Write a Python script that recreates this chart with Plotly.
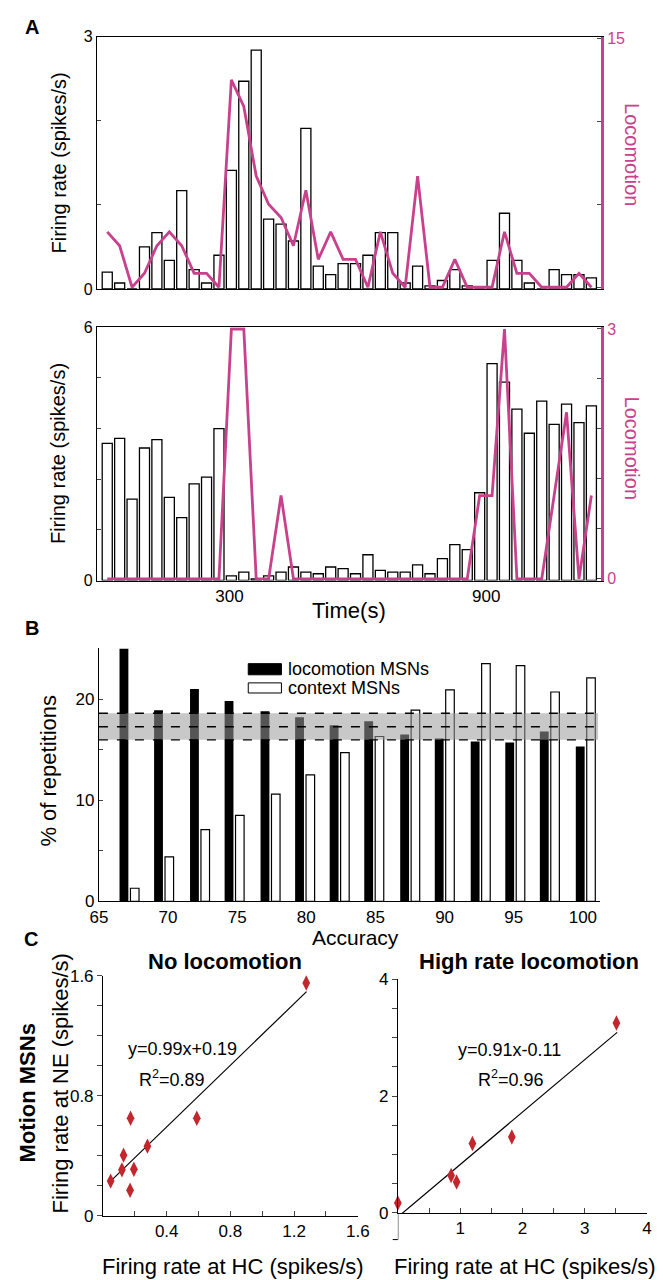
import plotly.graph_objects as go

W, H = 663, 1280
FONT = "Arial, Liberation Sans, sans-serif"
MAGENTA = "#c8418d"
RED = "#c1272d"

# ---- panel A: firing rate per time bin and locomotion, two example neurons
bin_s = 29
time_s = [bin_s * (i + 0.5) for i in range(40)]

rate_top = [0.20, 0.07, 0.0, 0.50, 0.67, 0.34, 1.17, 0.23, 0.07, 0.40,
            1.41, 2.47, 2.84, 0.83, 0.77, 0.57, 1.91, 0.27, 0.17, 0.30,
            0.30, 0.40, 0.67, 0.67, 0.07, 0.27, 0.035, 0.10, 0.23, 0.035,
            0.0, 0.34, 0.90, 0.34, 0.07, 0.0, 0.23, 0.17, 0.17, 0.13]
loco_top = [3.34, 2.5, 0, 0.84, 2.5, 3.34, 2.5, 0.84, 0.84, 0,
            12.5, 10.9, 6.7, 5.0, 4.2, 2.5, 5.85, 1.68, 3.34, 1.68,
            1.68, 0, 3.34, 0.84, 0, 6.7, 0, 0, 1.68, 0,
            0, 0, 3.34, 0.84, 0.84, 0, 0, 0, 0.84, 0]
rate_bot = [3.25, 3.37, 1.93, 3.14, 3.34, 1.97, 1.49, 2.29, 2.45, 3.60,
            0.11, 0.20, 0.04, 0.11, 0.20, 0.32, 0.20, 0.16, 0.32, 0.28,
            0.16, 0.61, 0.24, 0.20, 0.20, 0.37, 0.16, 0.52, 0.85, 0.73,
            2.08, 5.14, 4.70, 4.06, 3.49, 4.25, 3.70, 4.18, 3.74, 4.14]
loco_bot = [0, 0, 0, 0, 0, 0, 0, 0, 0, 0,
            3, 3, 0, 0, 1, 0, 0, 0, 0, 0,
            0, 0, 0, 0, 0, 0, 0, 0, 0, 0,
            1, 1, 3, 0, 0, 0, 1, 2, 0, 1]

# ---- panel B: % of repetitions vs accuracy
accuracy = [67.2, 69.7, 72.3, 74.8, 77.4, 79.9, 82.4, 84.9, 87.5, 90.0, 92.6, 95.1, 97.6, 100.2]
loco_msn = [25.0, 18.9, 21.0, 19.8, 18.8, 18.2, 17.4, 17.8, 16.5, 16.1, 15.8, 15.7, 16.8, 15.3]
context_msn = [1.3, 4.4, 7.1, 8.5, 10.6, 12.5, 14.7, 16.3, 18.9, 20.9, 23.5, 23.3, 20.7, 22.1]
chance_lo, chance_mid, chance_hi = 15.97, 17.27, 18.6

# ---- panel C: firing rate at HC vs NE
hc_noloco = [0.048, 0.119, 0.129, 0.170, 0.173, 0.194, 0.279, 0.589, 1.276]
ne_noloco = [0.232, 0.307, 0.405, 0.171, 0.651, 0.311, 0.465, 0.651, 1.552]
fit_noloco_x = [0.048, 1.278]
fit_noloco_y = [0.232, 1.495]
hc_hiloco = [0.0, 0.855, 0.943, 1.197, 1.829, 3.508]
ne_hiloco = [0.17, 0.64, 0.53, 1.19, 1.30, 3.25]
fit_hiloco_x = [0.01, 3.52]
fit_hiloco_y = [-0.06, 3.09]


def px(x, y):
    return x / W, 1 - y / H


def xdom(a, b):
    return [a / W, b / W]


def ydom(top, bot):
    return [1 - bot / H, 1 - top / H]


fig = go.Figure()

# panel A traces
fig.add_trace(go.Bar(x=time_s, y=rate_top, width=23.5, xaxis="x", yaxis="y",
                     marker=dict(color="white", line=dict(color="black", width=1.3))))
fig.add_trace(go.Scatter(x=time_s, y=loco_top, mode="lines", xaxis="x", yaxis="y2",
                         line=dict(color=MAGENTA, width=2.8)))
fig.add_trace(go.Bar(x=time_s, y=rate_bot, width=23.5, xaxis="x2", yaxis="y3",
                     marker=dict(color="white", line=dict(color="black", width=1.3))))
fig.add_trace(go.Scatter(x=time_s, y=loco_bot, mode="lines", xaxis="x2", yaxis="y4",
                         line=dict(color=MAGENTA, width=2.8)))

# panel B traces
fig.add_trace(go.Bar(x=accuracy, y=loco_msn, width=0.64, offset=-0.71, xaxis="x3", yaxis="y5",
                     marker=dict(color="black", line=dict(width=0))))
fig.add_trace(go.Bar(x=accuracy, y=context_msn, width=0.62, offset=0.08, xaxis="x3", yaxis="y5",
                     marker=dict(color="white", line=dict(color="black", width=1.2))))

# panel C traces
fig.add_trace(go.Scatter(x=fit_noloco_x, y=fit_noloco_y, mode="lines", xaxis="x4", yaxis="y6",
                         line=dict(color="black", width=1.2)))
fig.add_trace(go.Scatter(x=hc_noloco, y=ne_noloco, mode="markers", xaxis="x4", yaxis="y6",
                         cliponaxis=False,
                         marker=dict(symbol="diamond-tall", size=11, color=RED)))
fig.add_trace(go.Scatter(x=fit_hiloco_x, y=fit_hiloco_y, mode="lines", xaxis="x5", yaxis="y7",
                         line=dict(color="black", width=1.2)))
fig.add_trace(go.Scatter(x=hc_hiloco, y=ne_hiloco, mode="markers", xaxis="x5", yaxis="y7",
                         cliponaxis=False,
                         marker=dict(symbol="diamond-tall", size=11, color=RED)))

t_range = [-9.7, 1168.4]
a_x = xdom(82.5, 603.3)
line_ax = dict(showline=True, linecolor="black", linewidth=1, showgrid=False, zeroline=False)

fig.update_layout(
    width=W, height=H, margin=dict(l=0, r=0, t=0, b=0),
    paper_bgcolor="white", plot_bgcolor="white", showlegend=False,
    font=dict(family=FONT, color="black", size=16),
    xaxis=dict(domain=a_x, range=t_range, anchor="y", mirror=True, ticks="",
               showticklabels=False, **line_ax),
    yaxis=dict(domain=ydom(20, 276), range=[0, 3], anchor="x",
               tickvals=[0, 1, 2, 3], ticktext=["0", " ", " ", "3"],
               ticks="inside", ticklen=4, tickfont=dict(size=16), **line_ax),
    yaxis2=dict(overlaying="y", side="right", anchor="x", range=[-0.1, 15.1],
                showline=True, linecolor=MAGENTA, linewidth=2.5, showgrid=False, zeroline=False,
                tickvals=[0, 5, 10, 15], ticktext=[" ", " ", " ", "15"],
                ticks="inside", ticklen=4, tickcolor="#444",
                tickfont=dict(size=16, color=MAGENTA)),
    xaxis2=dict(domain=a_x, range=t_range, anchor="y3", mirror=True, ticks="",
                tickvals=[300, 900], ticktext=["300", "900"], tickfont=dict(size=17),
                ticklabelstandoff=0, **line_ax),
    yaxis3=dict(domain=ydom(315, 572), range=[0, 6], anchor="x2",
                tickvals=[0, 1.2, 2.4, 3.6, 4.8, 6], ticktext=["0", " ", " ", " ", " ", "6"],
                ticks="inside", ticklen=4, tickfont=dict(size=16), **line_ax),
    yaxis4=dict(overlaying="y3", side="right", anchor="x2", range=[-0.02, 3.02],
                showline=True, linecolor=MAGENTA, linewidth=2.5, showgrid=False, zeroline=False,
                tickvals=[0, 0.6, 1.2, 1.8, 2.4, 3], ticktext=["0", " ", " ", " ", " ", "3"],
                ticks="inside", ticklen=4, tickcolor="#444",
                tickfont=dict(size=16, color=MAGENTA)),
    xaxis3=dict(domain=xdom(84.6, 602.5), range=[65, 101.27], anchor="y5", ticks="",
                tickvals=[65, 70, 75, 80, 85, 90, 95, 100], tickfont=dict(size=17),
                ticklabelstandoff=0, **line_ax),
    yaxis5=dict(domain=ydom(641, 897.7), range=[0, 25], anchor="x3",
                tickvals=[0, 5, 10, 15, 20, 25], ticktext=["0", " ", "10", " ", "20", " "],
                ticks="inside", ticklen=4, tickfont=dict(size=17), **line_ax),
    xaxis4=dict(domain=xdom(88.8, 352), range=[0, 1.6], anchor="y6",
                tickvals=[0, 0.2, 0.4, 0.6, 0.8, 1.0, 1.2, 1.4, 1.6],
                ticktext=[" ", " ", "0.4", " ", "0.8", " ", "1.2", " ", "1.6"],
                ticks="inside", ticklen=5, tickfont=dict(size=17), **line_ax),
    yaxis6=dict(domain=ydom(973.3, 1217), range=[0, 1.6], anchor="x4",
                tickvals=[0, 0.2, 0.4, 0.6, 0.8, 1.0, 1.2, 1.4, 1.6],
                ticktext=["0", " ", " ", " ", "0.8", " ", " ", " ", "1.6"],
                ticks="outside", ticklen=5, tickfont=dict(size=17), **line_ax),
    xaxis5=dict(domain=xdom(393.3, 650.7), range=[0, 4], anchor="y7",
                tickvals=[0, 0.5, 1, 1.5, 2, 2.5, 3, 3.5, 4],
                ticktext=[" ", " ", "1", " ", "2", " ", "3", " ", "4"],
                ticks="inside", ticklen=5, tickfont=dict(size=17), **line_ax),
    yaxis7=dict(domain=ydom(976.7, 1214), range=[0, 4], anchor="x5",
                tickvals=[0, 0.5, 1, 1.5, 2, 2.5, 3, 3.5, 4],
                ticktext=["0", " ", " ", " ", "2", " ", " ", " ", "4"],
                ticks="outside", ticklen=5, tickfont=dict(size=17), **line_ax),
)

shapes = []
# chance band in panel B
shapes.append(dict(type="rect", xref="x3", yref="y5", x0=65, x1=101.1,
                   y0=chance_lo, y1=chance_hi, fillcolor="rgba(155,155,155,0.55)",
                   line=dict(width=0), layer="above"))
for yv in (chance_lo, chance_mid, chance_hi):
    shapes.append(dict(type="line", xref="x3", yref="y5", x0=65, x1=101.1, y0=yv, y1=yv,
                       line=dict(color="black", width=1.4, dash="dash"), layer="above"))
# legend boxes in panel B
shapes.append(dict(type="rect", xref="x3", yref="y5", x0=75.8, x1=78.2, y0=22.4, y1=23.5,
                   fillcolor="black", line=dict(color="black", width=1)))
shapes.append(dict(type="rect", xref="x3", yref="y5", x0=75.8, x1=78.2, y0=20.6, y1=21.6,
                   fillcolor="white", line=dict(color="black", width=1)))
# y axis of right C panel continues below zero
shapes.append(dict(type="line", xref="x5", yref="paper", x0=0, x1=0,
                   y0=1 - 1241 / H, y1=1 - 1214 / H, line=dict(color="black", width=1)))
shapes.append(dict(type="line", xref="paper", yref="paper", x0=388 / W, x1=393.3 / W,
                   y0=1 - 1241 / H, y1=1 - 1241 / H, line=dict(color="black", width=1)))
fig.update_layout(shapes=shapes)

ann = []


def text(x, y, s, size, color="black", bold=False, angle=0, xanchor="center"):
    xp, yp = px(x, y)
    if bold:
        s = "<b>" + s + "</b>"
    ann.append(dict(x=xp, y=yp, xref="paper", yref="paper", text=s, showarrow=False,
                    xanchor=xanchor, yanchor="middle", textangle=angle,
                    font=dict(family=FONT, size=size, color=color)))


text(15, 10, "A", 20, bold=True)
text(15, 620, "B", 20, bold=True)
text(14, 936, "C", 20, bold=True)

text(43, 148, "Firing rate (spikes/s)", 20, angle=-90)
text(43, 443, "Firing rate (spikes/s)", 20, angle=-90)
text(635, 140, "Locomotion", 20, color=MAGENTA, angle=90)
text(635, 438, "Locomotion", 20, color=MAGENTA, angle=90)
text(343, 602, "Time(s)", 22)

text(33, 765, "% of repetitions", 22, angle=-90)
text(350, 934, "Accuracy", 21)
ann.append(dict(x=78.5, y=22.95, xref="x3", yref="y5", text="locomotion MSNs", showarrow=False,
                xanchor="left", yanchor="middle", font=dict(family=FONT, size=18)))
ann.append(dict(x=78.5, y=21.1, xref="x3", yref="y5", text="context MSNs", showarrow=False,
                xanchor="left", yanchor="middle", font=dict(family=FONT, size=18)))

text(215, 959, "No locomotion", 22, bold=True)
text(529, 959, "High rate locomotion", 22, bold=True)
text(171, 1048, "y=0.99x+0.19", 18)
text(160, 1078, "R<sup>2</sup>=0.89", 18)
text(509, 1049, "y=0.91x-0.11", 18)
text(510, 1078, "R<sup>2</sup>=0.96", 18)
text(45, 1083, "Firing rate at NE (spikes/s)", 22, angle=-90)
text(11, 1092, "Motion MSNs", 22, bold=True, angle=-90)
text(223, 1268, "Firing rate at HC (spikes/s)", 22)
text(525, 1268, "Firing rate at HC (spikes/s)", 22)

fig.update_layout(annotations=ann)

fig.write_html("out.html")
